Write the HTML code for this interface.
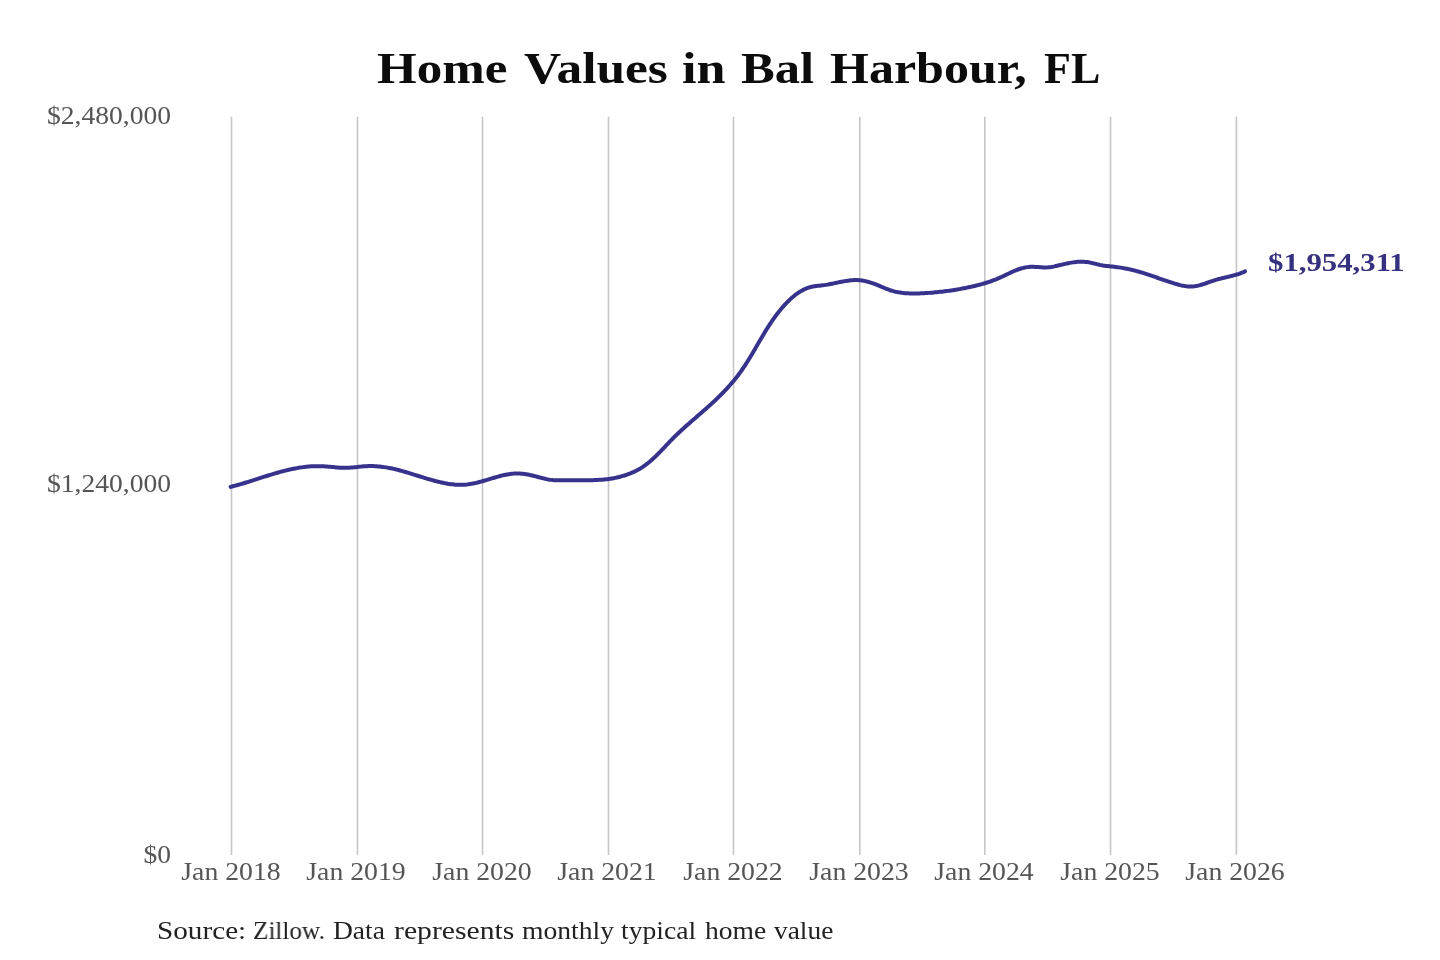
<!DOCTYPE html>
<html><head><meta charset="utf-8"><title>Home Values in Bal Harbour, FL</title>
<style>
html,body{margin:0;padding:0;background:#fff;width:1440px;height:960px;overflow:hidden;}
body{position:relative;font-family:"Liberation Serif",serif;}
.t{position:absolute;white-space:nowrap;line-height:1;transform-origin:0 0;will-change:transform;}
.xl{text-align:center;transform-origin:50% 0;color:#555;}
.yl{color:#555;text-align:right;transform-origin:100% 0;width:200px;}
svg{position:absolute;left:0;top:0;}
</style></head><body>
<svg width="1440" height="960" viewBox="0 0 1440 960">
<g stroke="#c6c6c6" stroke-width="1.6" fill="none">
<line x1="231.50" y1="116.7" x2="231.50" y2="855.0"/>
<line x1="357.50" y1="116.7" x2="357.50" y2="855.0"/>
<line x1="482.50" y1="116.7" x2="482.50" y2="855.0"/>
<line x1="608.50" y1="116.7" x2="608.50" y2="855.0"/>
<line x1="733.50" y1="116.7" x2="733.50" y2="855.0"/>
<line x1="859.80" y1="116.7" x2="859.80" y2="855.0"/>
<line x1="984.80" y1="116.7" x2="984.80" y2="855.0"/>
<line x1="1110.50" y1="116.7" x2="1110.50" y2="855.0"/>
<line x1="1236.40" y1="116.7" x2="1236.40" y2="855.0"/>
</g>
<path d="M230.64,486.84 L232.20,486.46 L233.75,486.06 L235.29,485.65 L236.84,485.23 L238.38,484.80 L239.91,484.36 L241.45,483.92 L242.98,483.46 L244.51,483.00 L246.04,482.54 L247.57,482.07 L249.10,481.59 L250.62,481.11 L252.15,480.63 L253.67,480.14 L255.19,479.65 L256.72,479.16 L258.24,478.67 L259.76,478.18 L261.28,477.69 L262.80,477.20 L264.32,476.71 L265.85,476.23 L267.37,475.75 L268.90,475.27 L270.42,474.80 L271.95,474.33 L273.48,473.87 L275.01,473.41 L276.54,472.97 L278.07,472.53 L279.61,472.10 L281.15,471.67 L282.69,471.26 L284.23,470.86 L285.78,470.47 L287.33,470.10 L288.89,469.73 L290.44,469.38 L292.01,469.04 L293.57,468.72 L295.14,468.42 L296.71,468.12 L298.29,467.85 L299.88,467.59 L301.46,467.36 L303.06,467.14 L304.65,466.94 L306.25,466.76 L307.86,466.60 L309.46,466.46 L311.06,466.35 L312.67,466.26 L314.27,466.20 L315.87,466.16 L317.46,466.15 L319.06,466.16 L320.65,466.19 L322.24,466.25 L323.83,466.32 L325.41,466.41 L327.00,466.52 L328.59,466.65 L330.18,466.79 L331.77,466.93 L333.36,467.09 L334.96,467.25 L336.55,467.40 L338.15,467.54 L339.75,467.66 L341.35,467.76 L342.95,467.83 L344.55,467.86 L346.15,467.85 L347.75,467.80 L349.35,467.71 L350.96,467.60 L352.56,467.46 L354.16,467.31 L355.76,467.14 L357.36,466.97 L358.96,466.80 L360.56,466.63 L362.16,466.48 L363.75,466.35 L365.35,466.23 L366.94,466.15 L368.53,466.10 L370.11,466.07 L371.70,466.08 L373.29,466.12 L374.87,466.18 L376.45,466.27 L378.03,466.39 L379.61,466.53 L381.18,466.70 L382.76,466.90 L384.33,467.11 L385.91,467.36 L387.48,467.62 L389.05,467.91 L390.62,468.22 L392.19,468.55 L393.76,468.90 L395.32,469.27 L396.89,469.65 L398.45,470.05 L400.01,470.47 L401.56,470.89 L403.11,471.33 L404.66,471.78 L406.20,472.23 L407.74,472.69 L409.27,473.15 L410.80,473.62 L412.32,474.10 L413.85,474.57 L415.37,475.05 L416.89,475.53 L418.41,476.01 L419.93,476.48 L421.44,476.96 L422.96,477.43 L424.48,477.90 L426.01,478.36 L427.53,478.81 L429.06,479.26 L430.59,479.70 L432.12,480.13 L433.66,480.55 L435.20,480.96 L436.75,481.36 L438.31,481.75 L439.87,482.12 L441.43,482.47 L443.01,482.81 L444.58,483.13 L446.16,483.42 L447.75,483.70 L449.33,483.94 L450.92,484.17 L452.51,484.36 L454.10,484.52 L455.69,484.65 L457.29,484.75 L458.88,484.81 L460.47,484.83 L462.05,484.81 L463.64,484.75 L465.22,484.65 L466.80,484.50 L468.37,484.31 L469.94,484.08 L471.51,483.82 L473.08,483.52 L474.64,483.19 L476.20,482.84 L477.76,482.46 L479.31,482.06 L480.87,481.64 L482.42,481.21 L483.97,480.76 L485.52,480.30 L487.07,479.83 L488.62,479.36 L490.17,478.89 L491.71,478.42 L493.26,477.96 L494.81,477.50 L496.36,477.05 L497.90,476.62 L499.45,476.20 L501.00,475.79 L502.56,475.42 L504.11,475.06 L505.66,474.73 L507.22,474.44 L508.78,474.18 L510.34,473.95 L511.91,473.76 L513.48,473.62 L515.05,473.52 L516.63,473.47 L518.21,473.46 L519.79,473.52 L521.38,473.63 L522.97,473.78 L524.56,473.99 L526.16,474.23 L527.75,474.52 L529.34,474.83 L530.92,475.18 L532.51,475.55 L534.08,475.95 L535.65,476.36 L537.22,476.78 L538.78,477.21 L540.34,477.63 L541.90,478.04 L543.46,478.43 L545.02,478.79 L546.57,479.13 L548.14,479.43 L549.70,479.68 L551.27,479.88 L552.84,480.03 L554.42,480.14 L556.00,480.21 L557.59,480.25 L559.18,480.26 L560.77,480.26 L562.37,480.24 L563.96,480.22 L565.56,480.20 L567.16,480.18 L568.77,480.16 L570.37,480.16 L571.97,480.16 L573.58,480.16 L575.19,480.17 L576.80,480.19 L578.41,480.20 L580.01,480.21 L581.62,480.22 L583.23,480.23 L584.84,480.23 L586.45,480.23 L588.06,480.22 L589.67,480.20 L591.28,480.18 L592.88,480.14 L594.49,480.10 L596.09,480.04 L597.69,479.96 L599.30,479.87 L600.90,479.77 L602.49,479.64 L604.09,479.50 L605.68,479.34 L607.27,479.15 L608.86,478.94 L610.44,478.71 L612.02,478.46 L613.60,478.18 L615.17,477.87 L616.74,477.54 L618.30,477.18 L619.85,476.80 L621.39,476.39 L622.92,475.95 L624.45,475.48 L625.96,474.99 L627.46,474.47 L628.95,473.91 L630.43,473.33 L631.89,472.72 L633.34,472.08 L634.77,471.41 L636.18,470.71 L637.58,469.97 L638.96,469.21 L640.33,468.41 L641.67,467.58 L642.99,466.72 L644.30,465.82 L645.58,464.90 L646.85,463.94 L648.10,462.96 L649.33,461.95 L650.55,460.92 L651.76,459.87 L652.95,458.80 L654.13,457.71 L655.30,456.60 L656.46,455.48 L657.61,454.34 L658.75,453.19 L659.88,452.04 L661.01,450.87 L662.14,449.70 L663.26,448.52 L664.38,447.35 L665.49,446.17 L666.61,444.99 L667.73,443.81 L668.84,442.64 L669.96,441.47 L671.08,440.31 L672.21,439.16 L673.34,438.02 L674.48,436.89 L675.62,435.77 L676.76,434.67 L677.91,433.56 L679.07,432.47 L680.23,431.39 L681.39,430.31 L682.56,429.24 L683.73,428.17 L684.91,427.11 L686.09,426.05 L687.28,425.00 L688.46,423.95 L689.66,422.90 L690.85,421.85 L692.05,420.81 L693.26,419.76 L694.46,418.72 L695.67,417.67 L696.88,416.63 L698.09,415.58 L699.30,414.53 L700.52,413.48 L701.73,412.43 L702.94,411.37 L704.15,410.32 L705.36,409.26 L706.57,408.19 L707.77,407.12 L708.97,406.05 L710.17,404.98 L711.36,403.89 L712.54,402.81 L713.72,401.72 L714.89,400.62 L716.06,399.52 L717.22,398.41 L718.37,397.29 L719.51,396.17 L720.65,395.04 L721.77,393.90 L722.89,392.76 L724.00,391.61 L725.10,390.45 L726.20,389.29 L727.28,388.12 L728.35,386.94 L729.42,385.75 L730.47,384.55 L731.51,383.35 L732.55,382.13 L733.57,380.91 L734.58,379.68 L735.58,378.44 L736.57,377.20 L737.54,375.94 L738.51,374.67 L739.46,373.40 L740.40,372.11 L741.33,370.82 L742.24,369.51 L743.14,368.20 L744.04,366.87 L744.92,365.54 L745.79,364.21 L746.65,362.86 L747.51,361.51 L748.35,360.15 L749.19,358.79 L750.02,357.42 L750.85,356.05 L751.67,354.68 L752.49,353.30 L753.30,351.91 L754.11,350.53 L754.92,349.14 L755.73,347.75 L756.53,346.36 L757.33,344.98 L758.14,343.59 L758.94,342.20 L759.75,340.81 L760.56,339.42 L761.37,338.04 L762.18,336.66 L763.00,335.28 L763.82,333.90 L764.65,332.53 L765.49,331.17 L766.32,329.80 L767.17,328.45 L768.02,327.09 L768.89,325.75 L769.76,324.41 L770.64,323.08 L771.52,321.75 L772.42,320.43 L773.33,319.12 L774.26,317.82 L775.19,316.53 L776.13,315.25 L777.09,313.98 L778.07,312.72 L779.05,311.46 L780.06,310.22 L781.08,309.00 L782.11,307.78 L783.16,306.58 L784.23,305.39 L785.32,304.21 L786.42,303.05 L787.54,301.90 L788.69,300.77 L789.85,299.65 L791.03,298.56 L792.24,297.48 L793.47,296.44 L794.71,295.42 L795.98,294.44 L797.28,293.49 L798.59,292.59 L799.93,291.73 L801.29,290.91 L802.68,290.15 L804.09,289.44 L805.52,288.79 L806.98,288.20 L808.47,287.68 L809.98,287.22 L811.51,286.83 L813.08,286.52 L814.66,286.26 L816.26,286.04 L817.86,285.85 L819.48,285.68 L821.09,285.51 L822.70,285.33 L824.30,285.13 L825.89,284.89 L827.47,284.63 L829.04,284.34 L830.61,284.03 L832.17,283.71 L833.73,283.38 L835.30,283.04 L836.86,282.71 L838.42,282.37 L839.99,282.05 L841.56,281.73 L843.14,281.43 L844.71,281.15 L846.29,280.90 L847.86,280.67 L849.44,280.47 L851.02,280.31 L852.60,280.19 L854.17,280.12 L855.75,280.09 L857.32,280.11 L858.90,280.19 L860.47,280.33 L862.04,280.53 L863.60,280.79 L865.16,281.10 L866.72,281.46 L868.28,281.87 L869.83,282.32 L871.37,282.81 L872.91,283.33 L874.45,283.88 L875.97,284.46 L877.50,285.07 L879.01,285.69 L880.52,286.33 L882.02,286.97 L883.52,287.61 L885.01,288.24 L886.51,288.85 L888.01,289.43 L889.52,289.98 L891.04,290.48 L892.56,290.94 L894.09,291.35 L895.62,291.72 L897.17,292.05 L898.71,292.34 L900.27,292.59 L901.83,292.81 L903.40,292.99 L904.97,293.15 L906.54,293.27 L908.12,293.37 L909.70,293.44 L911.29,293.48 L912.88,293.51 L914.47,293.51 L916.06,293.49 L917.66,293.46 L919.25,293.41 L920.85,293.35 L922.45,293.27 L924.05,293.19 L925.65,293.10 L927.25,293.00 L928.85,292.88 L930.45,292.76 L932.05,292.64 L933.65,292.50 L935.24,292.35 L936.84,292.20 L938.44,292.03 L940.04,291.86 L941.63,291.68 L943.23,291.49 L944.82,291.29 L946.41,291.08 L948.00,290.87 L949.59,290.65 L951.18,290.42 L952.76,290.18 L954.35,289.93 L955.93,289.67 L957.51,289.41 L959.09,289.14 L960.66,288.86 L962.24,288.57 L963.81,288.27 L965.38,287.97 L966.94,287.66 L968.50,287.33 L970.06,287.00 L971.62,286.66 L973.17,286.30 L974.72,285.94 L976.27,285.56 L977.81,285.17 L979.35,284.77 L980.89,284.35 L982.42,283.92 L983.95,283.47 L985.47,283.01 L986.99,282.53 L988.50,282.03 L990.01,281.52 L991.52,280.99 L993.02,280.44 L994.52,279.87 L996.01,279.29 L997.50,278.68 L998.98,278.05 L1000.46,277.41 L1001.93,276.74 L1003.40,276.06 L1004.86,275.36 L1006.32,274.67 L1007.79,273.97 L1009.25,273.28 L1010.71,272.59 L1012.18,271.92 L1013.65,271.27 L1015.13,270.65 L1016.61,270.06 L1018.09,269.49 L1019.59,268.97 L1021.09,268.50 L1022.61,268.07 L1024.13,267.69 L1025.67,267.38 L1027.22,267.13 L1028.79,266.95 L1030.37,266.84 L1031.96,266.80 L1033.57,266.82 L1035.19,266.89 L1036.81,266.99 L1038.44,267.10 L1040.07,267.22 L1041.69,267.32 L1043.31,267.39 L1044.92,267.42 L1046.52,267.40 L1048.10,267.31 L1049.67,267.15 L1051.23,266.93 L1052.78,266.67 L1054.32,266.37 L1055.86,266.03 L1057.40,265.68 L1058.95,265.32 L1060.49,264.95 L1062.04,264.58 L1063.59,264.22 L1065.15,263.87 L1066.71,263.53 L1068.27,263.21 L1069.83,262.91 L1071.40,262.63 L1072.97,262.39 L1074.55,262.17 L1076.12,261.99 L1077.70,261.85 L1079.27,261.76 L1080.85,261.71 L1082.43,261.72 L1084.01,261.78 L1085.60,261.90 L1087.18,262.08 L1088.76,262.33 L1090.34,262.63 L1091.93,262.97 L1093.51,263.34 L1095.10,263.72 L1096.68,264.11 L1098.26,264.49 L1099.85,264.86 L1101.44,265.18 L1103.02,265.47 L1104.61,265.71 L1106.19,265.92 L1107.78,266.11 L1109.36,266.28 L1110.95,266.44 L1112.53,266.60 L1114.11,266.77 L1115.69,266.95 L1117.27,267.15 L1118.85,267.37 L1120.42,267.61 L1121.99,267.86 L1123.56,268.14 L1125.12,268.43 L1126.69,268.74 L1128.25,269.07 L1129.81,269.41 L1131.36,269.76 L1132.92,270.14 L1134.46,270.52 L1136.01,270.93 L1137.55,271.34 L1139.09,271.77 L1140.63,272.21 L1142.16,272.67 L1143.69,273.14 L1145.21,273.61 L1146.73,274.10 L1148.25,274.60 L1149.76,275.11 L1151.28,275.63 L1152.79,276.15 L1154.30,276.68 L1155.81,277.21 L1157.32,277.74 L1158.83,278.27 L1160.34,278.80 L1161.85,279.33 L1163.36,279.86 L1164.88,280.39 L1166.40,280.91 L1167.92,281.42 L1169.44,281.92 L1170.97,282.42 L1172.51,282.91 L1174.05,283.38 L1175.59,283.84 L1177.14,284.29 L1178.70,284.71 L1180.26,285.11 L1181.82,285.47 L1183.39,285.78 L1184.95,286.05 L1186.52,286.27 L1188.09,286.42 L1189.65,286.51 L1191.21,286.52 L1192.77,286.45 L1194.33,286.30 L1195.88,286.07 L1197.43,285.77 L1198.97,285.41 L1200.51,285.00 L1202.05,284.54 L1203.59,284.05 L1205.13,283.53 L1206.67,282.99 L1208.21,282.45 L1209.74,281.90 L1211.28,281.36 L1212.82,280.84 L1214.36,280.34 L1215.91,279.87 L1217.45,279.42 L1218.99,279.00 L1220.54,278.60 L1222.09,278.21 L1223.63,277.83 L1225.18,277.46 L1226.73,277.09 L1228.27,276.72 L1229.82,276.35 L1231.36,275.97 L1232.90,275.57 L1234.44,275.16 L1235.97,274.73 L1237.50,274.28 L1239.03,273.79 L1240.54,273.26 L1242.05,272.70 L1243.54,272.08 L1245.02,271.41" fill="none" stroke="#37328c" stroke-width="4" stroke-linecap="round" stroke-linejoin="round"/>
</svg>
<div class="t" style="left:376.64px;top:47.20px;font-size:44px;transform:scaleX(1.1595);font-weight:bold;color:#0c0c0c;">Home</div>
<div class="t" style="left:523.50px;top:47.20px;font-size:44px;transform:scaleX(1.1689);font-weight:bold;color:#0c0c0c;">Values</div>
<div class="t" style="left:682.01px;top:47.20px;font-size:44px;transform:scaleX(1.1857);font-weight:bold;color:#0c0c0c;">in</div>
<div class="t" style="left:741.45px;top:47.20px;font-size:44px;transform:scaleX(1.1500);font-weight:bold;color:#0c0c0c;">Bal</div>
<div class="t" style="left:829.96px;top:47.20px;font-size:44px;transform:scaleX(1.1363);font-weight:bold;color:#0c0c0c;">Harbour,</div>
<div class="t" style="left:1044.10px;top:47.20px;font-size:44px;transform:scaleX(1.0000);font-weight:bold;color:#0c0c0c;">FL</div>
<div id="y1" class="t yl" style="left:-28.80000000000001px;top:103.4px;font-size:25.5px;transform:scaleX(1.08);">$2,480,000</div>
<div id="y2" class="t yl" style="left:-28.80000000000001px;top:471.4px;font-size:25.5px;transform:scaleX(1.08);">$1,240,000</div>
<div id="y3" class="t yl" style="left:-28.80000000000001px;top:842.4px;font-size:25.5px;transform:scaleX(1.08);">$0</div>
<div class="t xl" style="left:130.50px;top:859.10px;width:200px;font-size:25.50px;transform:scaleX(1.0890)">Jan 2018</div>
<div class="t xl" style="left:256.10px;top:859.10px;width:200px;font-size:25.50px;transform:scaleX(1.0890)">Jan 2019</div>
<div class="t xl" style="left:381.70px;top:859.10px;width:200px;font-size:25.50px;transform:scaleX(1.0890)">Jan 2020</div>
<div class="t xl" style="left:507.30px;top:859.10px;width:200px;font-size:25.50px;transform:scaleX(1.0890)">Jan 2021</div>
<div class="t xl" style="left:632.90px;top:859.10px;width:200px;font-size:25.50px;transform:scaleX(1.0890)">Jan 2022</div>
<div class="t xl" style="left:758.50px;top:859.10px;width:200px;font-size:25.50px;transform:scaleX(1.0890)">Jan 2023</div>
<div class="t xl" style="left:884.10px;top:859.10px;width:200px;font-size:25.50px;transform:scaleX(1.0890)">Jan 2024</div>
<div class="t xl" style="left:1009.70px;top:859.10px;width:200px;font-size:25.50px;transform:scaleX(1.0890)">Jan 2025</div>
<div class="t xl" style="left:1135.30px;top:859.10px;width:200px;font-size:25.50px;transform:scaleX(1.0890)">Jan 2026</div>
<div id="end" class="t" style="left:1267.5px;top:249.5px;font-size:25.3px;transform:scaleX(1.216);font-weight:bold;color:#35317f;">$1,954,311</div>
<div class="t" style="left:157.25px;top:918.30px;font-size:26px;transform:scaleX(1.1233);color:#222;">Source:</div>
<div class="t" style="left:252.83px;top:918.30px;font-size:26px;transform:scaleX(0.9694);color:#222;">Zillow.</div>
<div class="t" style="left:333.34px;top:918.30px;font-size:26px;transform:scaleX(1.0583);color:#222;">Data</div>
<div class="t" style="left:393.90px;top:918.30px;font-size:26px;transform:scaleX(1.1410);color:#222;">represents</div>
<div class="t" style="left:522.14px;top:918.30px;font-size:26px;transform:scaleX(1.0624);color:#222;">monthly</div>
<div class="t" style="left:620.80px;top:918.30px;font-size:26px;transform:scaleX(1.0614);color:#222;">typical</div>
<div class="t" style="left:704.50px;top:918.30px;font-size:26px;transform:scaleX(1.0596);color:#222;">home</div>
<div class="t" style="left:773.60px;top:918.30px;font-size:26px;transform:scaleX(1.0536);color:#222;">value</div>
</body></html>
